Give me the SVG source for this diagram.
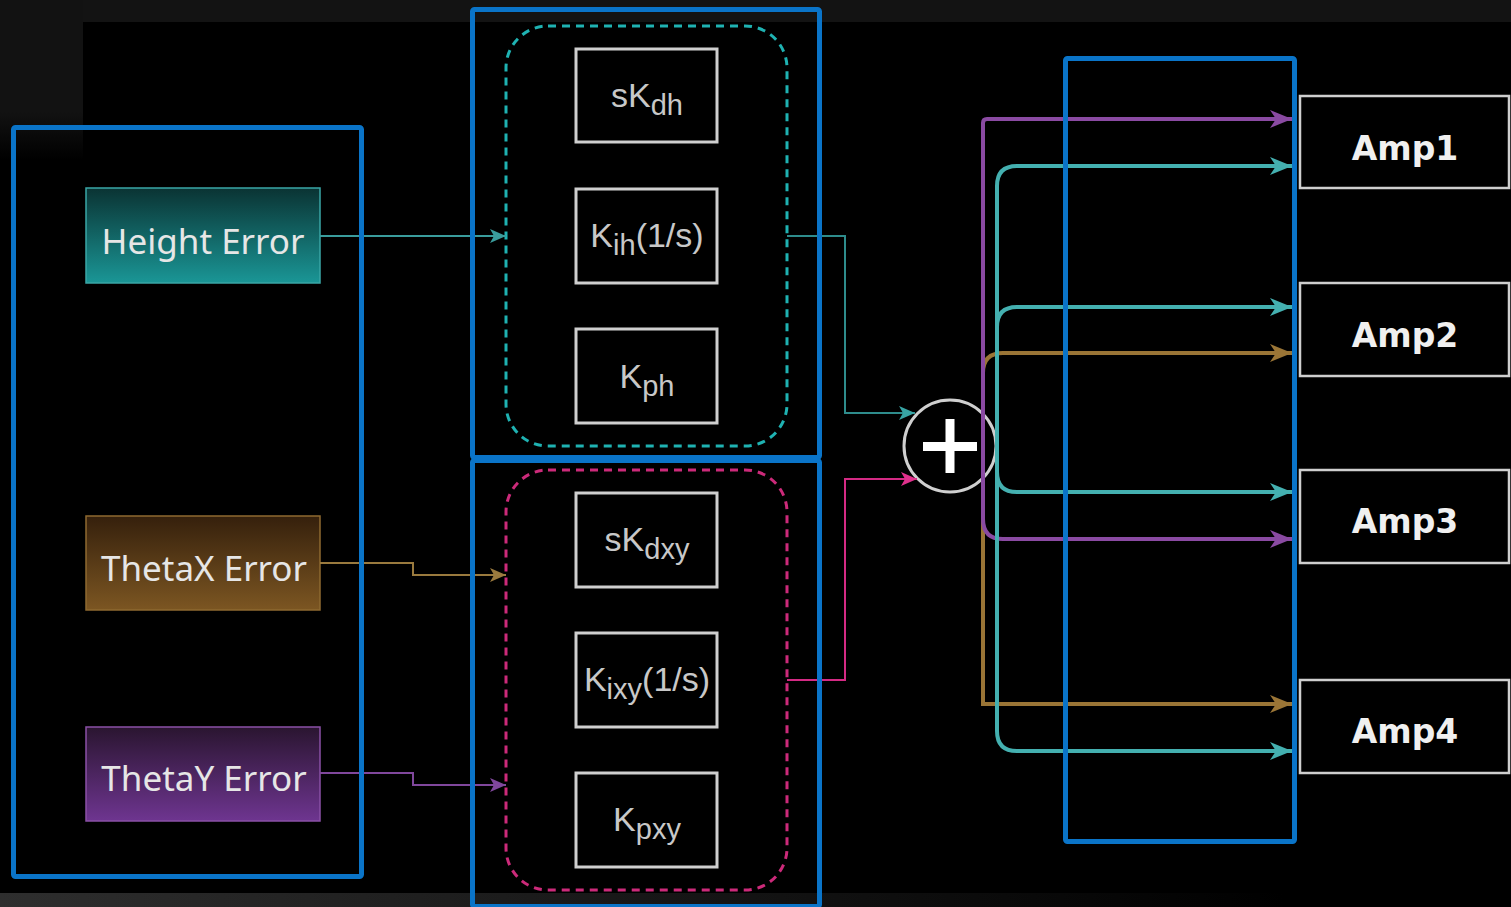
<svg xmlns="http://www.w3.org/2000/svg" width="1511" height="907" viewBox="0 0 1511 907">
<defs>
<style>
.blue{fill:none;stroke:#0a74c8;stroke-width:5}
.inner{fill:#000;stroke:#cfcfcf;stroke-width:3}
.itxt{font-family:"Liberation Sans",Arial,sans-serif;font-size:34px;fill:#c8c8c8;text-anchor:middle}
.sub{font-size:29px}
.ntxt{font-family:"Noto Sans","DejaVu Sans",sans-serif;font-size:35px;fill:#e6e6e6;text-anchor:middle}
.atxt{font-family:"DejaVu Sans",Verdana,sans-serif;font-weight:bold;font-size:33px;fill:#f0f0f0;text-anchor:middle}
.amp{fill:#000;stroke:#cfcfcf;stroke-width:2.5}
.thin{fill:none;stroke-width:2}
.thick{fill:none;stroke-width:4}
</style>
<linearGradient id="gH" x1="0" y1="0" x2="0" y2="1"><stop offset="0" stop-color="#0a3333"/><stop offset="1" stop-color="#1a9696"/></linearGradient>
<linearGradient id="gX" x1="0" y1="0" x2="0" y2="1"><stop offset="0" stop-color="#35200c"/><stop offset="1" stop-color="#7c5622"/></linearGradient>
<linearGradient id="gY" x1="0" y1="0" x2="0" y2="1"><stop offset="0" stop-color="#2a1530"/><stop offset="1" stop-color="#6e3590"/></linearGradient>
<linearGradient id="gBot" x1="0" y1="0" x2="1" y2="0"><stop offset="0" stop-color="#2e2e2e"/><stop offset="0.85" stop-color="#000"/></linearGradient>
<linearGradient id="gLeft" x1="0" y1="0" x2="0" y2="1"><stop offset="0.7" stop-color="#121212"/><stop offset="1" stop-color="#000"/></linearGradient>
<marker id="sT" viewBox="0 0 16 14" refX="16" refY="7" markerWidth="16" markerHeight="14" markerUnits="userSpaceOnUse" orient="auto"><path d="M0,0 L16,7 L0,14 L4,7 z" fill="#3a9c9c"/></marker>
<marker id="sX" viewBox="0 0 16 14" refX="16" refY="7" markerWidth="16" markerHeight="14" markerUnits="userSpaceOnUse" orient="auto"><path d="M0,0 L16,7 L0,14 L4,7 z" fill="#9a7a3e"/></marker>
<marker id="sY" viewBox="0 0 16 14" refX="16" refY="7" markerWidth="16" markerHeight="14" markerUnits="userSpaceOnUse" orient="auto"><path d="M0,0 L16,7 L0,14 L4,7 z" fill="#80479c"/></marker>
<marker id="sT2" viewBox="0 0 16 14" refX="16" refY="7" markerWidth="16" markerHeight="14" markerUnits="userSpaceOnUse" orient="auto"><path d="M0,0 L16,7 L0,14 L4,7 z" fill="#38a4a4"/></marker>
<marker id="sP" viewBox="0 0 16 14" refX="16" refY="7" markerWidth="16" markerHeight="14" markerUnits="userSpaceOnUse" orient="auto"><path d="M0,0 L16,7 L0,14 L4,7 z" fill="#e0308c"/></marker>
<marker id="bT" viewBox="0 0 22 18" refX="22" refY="9" markerWidth="22" markerHeight="18" markerUnits="userSpaceOnUse" orient="auto"><path d="M0,0 L22,9 L0,18 L6,9 z" fill="#44b0b0"/></marker>
<marker id="bV" viewBox="0 0 22 18" refX="22" refY="9" markerWidth="22" markerHeight="18" markerUnits="userSpaceOnUse" orient="auto"><path d="M0,0 L22,9 L0,18 L6,9 z" fill="#8a4aa2"/></marker>
<marker id="bB" viewBox="0 0 22 18" refX="22" refY="9" markerWidth="22" markerHeight="18" markerUnits="userSpaceOnUse" orient="auto"><path d="M0,0 L22,9 L0,18 L6,9 z" fill="#9a7536"/></marker>
</defs>

<g id="background">
<rect x="0" y="0" width="1511" height="907" fill="#000"/>
<rect x="0" y="0" width="1511" height="22" fill="#131313"/>
<rect x="0" y="0" width="83" height="160" fill="url(#gLeft)"/>
<rect x="0" y="893" width="1511" height="14" fill="url(#gBot)"/>
</g>

<g id="sum">
<circle cx="950" cy="446" r="46" fill="#000" stroke="#cfcfcf" stroke-width="3"/>
<rect x="923" y="442" width="54" height="9" fill="#fff"/>
<rect x="945.5" y="419" width="9" height="54" fill="#fff"/>
</g>

<g id="node-height">
<rect x="86" y="188" width="234" height="95" fill="url(#gH)" stroke="#3aa6a6" stroke-width="1.5"/>
<text class="ntxt" x="203" y="254">Height Error</text>
</g>
<g id="node-thetax">
<rect x="86" y="516" width="234" height="94" fill="url(#gX)" stroke="#8e6a30" stroke-width="1.5"/>
<text class="ntxt" x="204" y="581">ThetaX Error</text>
</g>
<g id="node-thetay">
<rect x="86" y="727" width="234" height="94" fill="url(#gY)" stroke="#8a50a6" stroke-width="1.5"/>
<text class="ntxt" x="204" y="791">ThetaY Error</text>
</g>

<g id="group-h">
<rect x="506" y="26" width="281" height="420" rx="42" fill="none" stroke="#1fb2b2" stroke-width="3" stroke-dasharray="8 6"/>
</g>
<g id="group-xy">
<rect x="506" y="470" width="281" height="420" rx="42" fill="none" stroke="#cc2a7a" stroke-width="3" stroke-dasharray="8 6"/>
</g>

<g id="node-skdh">
<rect class="inner" x="576" y="49" width="141" height="93"/>
<text class="itxt" x="647" y="107">sK<tspan class="sub" dy="8">dh</tspan></text>
</g>
<g id="node-kih">
<rect class="inner" x="576" y="189" width="141" height="94"/>
<text class="itxt" x="647" y="247">K<tspan class="sub" dy="8">ih</tspan><tspan dy="-8">(1/s)</tspan></text>
</g>
<g id="node-kph">
<rect class="inner" x="576" y="329" width="141" height="94"/>
<text class="itxt" x="647" y="388">K<tspan class="sub" dy="8">ph</tspan></text>
</g>
<g id="node-skdxy">
<rect class="inner" x="576" y="493" width="141" height="94"/>
<text class="itxt" x="647" y="551">sK<tspan class="sub" dy="8">dxy</tspan></text>
</g>
<g id="node-kixy">
<rect class="inner" x="576" y="633" width="141" height="94"/>
<text class="itxt" x="647" y="691">K<tspan class="sub" dy="8">ixy</tspan><tspan dy="-8">(1/s)</tspan></text>
</g>
<g id="node-kpxy">
<rect class="inner" x="576" y="773" width="141" height="94"/>
<text class="itxt" x="647" y="831">K<tspan class="sub" dy="8">pxy</tspan></text>
</g>

<g id="amp1">
<rect class="amp" x="1300" y="96" width="209" height="92"/>
<text class="atxt" x="1405" y="160">Amp1</text>
</g>
<g id="amp2">
<rect class="amp" x="1300" y="283" width="209" height="93"/>
<text class="atxt" x="1405" y="347">Amp2</text>
</g>
<g id="amp3">
<rect class="amp" x="1300" y="470" width="209" height="93"/>
<text class="atxt" x="1405" y="533">Amp3</text>
</g>
<g id="amp4">
<rect class="amp" x="1300" y="680" width="209" height="93"/>
<text class="atxt" x="1405" y="743">Amp4</text>
</g>

<g id="connectors">
<path class="thin" d="M320,236 H506" stroke="#3a9c9c" marker-end="url(#sT)"/>
<path class="thin" d="M320,563 H413 V575 H506" stroke="#9a7a3e" marker-end="url(#sX)"/>
<path class="thin" d="M320,773 H413 V785 H506" stroke="#80479c" marker-end="url(#sY)"/>
<path class="thin" d="M787,236 H845 V413 H915" stroke="#2e8c8c" marker-end="url(#sT2)"/>
<path class="thin" d="M787,680 H845 V479 H917" stroke="#d42a84" marker-end="url(#sP)"/>

<path class="thick" d="M983,446 V373 Q983,353 1003,353 H1292" stroke="#9a7536" marker-end="url(#bB)"/>
<path class="thick" d="M983,446 V704 H1292" stroke="#9a7536" marker-end="url(#bB)"/>
<path class="thick" d="M983,446 V123 Q983,119 987,119 H1292" stroke="#8a4aa2" marker-end="url(#bV)"/>
<path class="thick" d="M983,446 V519 Q983,539 1003,539 H1292" stroke="#8a4aa2" marker-end="url(#bV)"/>
<path class="thick" d="M997,446 V186 Q997,166 1017,166 H1292" stroke="#44b0b0" marker-end="url(#bT)"/>
<path class="thick" d="M997,446 V327 Q997,307 1017,307 H1292" stroke="#44b0b0" marker-end="url(#bT)"/>
<path class="thick" d="M997,446 V472 Q997,492 1017,492 H1292" stroke="#44b0b0" marker-end="url(#bT)"/>
<path class="thick" d="M997,446 V731 Q997,751 1017,751 H1292" stroke="#44b0b0" marker-end="url(#bT)"/>
</g>

<g id="frames">
<rect class="blue" x="13.5" y="127.5" width="348" height="749" rx="2"/>
<rect class="blue" x="472.5" y="9.5" width="347" height="448" rx="2"/>
<rect class="blue" x="472.5" y="460.5" width="347" height="446" rx="2"/>
<rect class="blue" x="1065.5" y="58.5" width="229" height="783" rx="2"/>
</g>
</svg>
